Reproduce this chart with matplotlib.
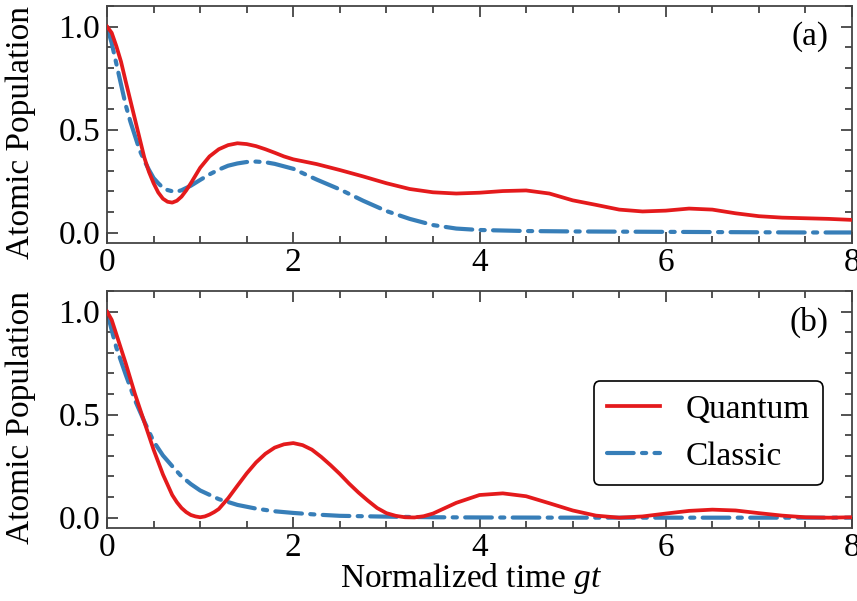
import numpy as np
import matplotlib
matplotlib.use("Agg")
import matplotlib.pyplot as plt
from matplotlib.ticker import MultipleLocator

# ---------------------------------------------------------
# DATA
# ---------------------------------------------------------
# panel (a)
t_a_quantum = [0, 0.05, 0.1, 0.15, 0.2, 0.3, 0.4, 0.45, 0.5, 0.55, 0.6, 0.65, 0.7, 0.75,
               0.8, 0.85, 0.9, 1.0, 1.1, 1.2, 1.3, 1.4, 1.5, 1.6, 1.7, 1.8, 1.9, 2.0,
               2.25, 2.5, 2.75, 3.0, 3.25, 3.5, 3.75, 4.0, 4.25, 4.5, 4.75, 5.0, 5.25,
               5.5, 5.75, 6.0, 6.25, 6.5, 6.75, 7.0, 7.25, 7.5, 7.75, 8.0]
a_quantum = [1.0, 0.97, 0.905, 0.83, 0.735, 0.55, 0.365, 0.295, 0.24, 0.195, 0.165, 0.15,
             0.146, 0.155, 0.175, 0.205, 0.24, 0.315, 0.37, 0.405, 0.425, 0.434, 0.43,
             0.42, 0.405, 0.388, 0.37, 0.356, 0.333, 0.304, 0.273, 0.24, 0.212, 0.196,
             0.19, 0.194, 0.202, 0.205, 0.19, 0.157, 0.135, 0.112, 0.103, 0.107, 0.117,
             0.112, 0.094, 0.08, 0.073, 0.07, 0.067, 0.062]

t_a_classic = [0, 0.05, 0.1, 0.15, 0.2, 0.25, 0.3, 0.35, 0.4, 0.45, 0.5, 0.55, 0.6, 0.65,
               0.7, 0.75, 0.8, 0.9, 1.0, 1.1, 1.2, 1.3, 1.4, 1.5, 1.6, 1.7, 1.8, 1.9, 2.0,
               2.25, 2.5, 2.75, 3.0, 3.25, 3.5, 3.75, 4.0, 4.5, 5.0, 5.5, 6.0, 6.5, 7.0,
               7.5, 8.0]
a_classic = [1.0, 0.92, 0.82, 0.72, 0.62, 0.54, 0.47, 0.40, 0.35, 0.305, 0.265, 0.24,
             0.218, 0.207, 0.201, 0.199, 0.206, 0.228, 0.256, 0.283, 0.306, 0.325, 0.336,
             0.343, 0.345, 0.342, 0.334, 0.322, 0.31, 0.258, 0.21, 0.155, 0.105, 0.067,
             0.037, 0.02, 0.013, 0.008, 0.006, 0.005, 0.004, 0.003, 0.002, 0.001, 0.001]

# panel (b)
t_b_quantum = [0, 0.05, 0.1, 0.15, 0.2, 0.3, 0.4, 0.5, 0.6, 0.7, 0.75, 0.8, 0.85, 0.9,
               0.95, 1.0, 1.05, 1.1, 1.15, 1.2, 1.3, 1.4, 1.5, 1.6, 1.7, 1.8, 1.9, 2.0,
               2.1, 2.2, 2.3, 2.4, 2.5, 2.6, 2.7, 2.8, 2.9, 3.0, 3.1, 3.2, 3.3, 3.4, 3.5,
               3.75, 4.0, 4.25, 4.5, 4.75, 5.0, 5.25, 5.5, 5.75, 6.0, 6.25, 6.5, 6.75,
               7.0, 7.25, 7.5, 7.75, 8.0]
b_quantum = [1.0, 0.96, 0.89, 0.82, 0.75, 0.60, 0.465, 0.33, 0.21, 0.11, 0.075, 0.047,
             0.027, 0.013, 0.006, 0.002, 0.006, 0.015, 0.027, 0.042, 0.094, 0.155, 0.215,
             0.268, 0.31, 0.34, 0.356, 0.362, 0.352, 0.33, 0.295, 0.255, 0.212, 0.165,
             0.122, 0.083, 0.047, 0.022, 0.009, 0.002, 0.001, 0.007, 0.02, 0.072, 0.11,
             0.118, 0.104, 0.07, 0.035, 0.01, 0.0, 0.006, 0.02, 0.033, 0.039, 0.035,
             0.022, 0.01, 0.002, 0.0, 0.002]

t_b_classic = [0, 0.05, 0.1, 0.15, 0.2, 0.3, 0.4, 0.5, 0.6, 0.7, 0.8, 0.9, 1.0, 1.2,
               1.4, 1.6, 1.8, 2.0, 2.25, 2.5, 3.0, 3.5, 4.0, 5.0, 6.0, 7.0, 8.0]
b_classic = [1.0, 0.91, 0.825, 0.76, 0.695, 0.57, 0.467, 0.37, 0.302, 0.25, 0.2, 0.163,
             0.132, 0.09, 0.062, 0.044, 0.031, 0.023, 0.015, 0.009, 0.005, 0.002, 0.001,
             0.0, 0.0, 0.0, 0.0]

labels = ["Quantum", "Classic"]
panel_tags = ["(a)", "(b)"]

# ---------------------------------------------------------
# STYLE
# ---------------------------------------------------------
plt.rcParams["font.family"] = ["Liberation Serif", "DejaVu Serif"]
plt.rcParams["mathtext.fontset"] = "custom"
plt.rcParams["mathtext.rm"] = "Liberation Serif"
plt.rcParams["mathtext.it"] = "Liberation Serif:italic"
plt.rcParams["font.size"] = 24

red, blue = "#e41a1c", "#377eb8"
axis_col = "#444444"

fig = plt.figure(figsize=(8.57, 6.01), dpi=100)
ax_a = fig.add_axes([0.1249, 0.5957, 0.8693, 0.3943])
ax_b = fig.add_axes([0.1249, 0.1215, 0.8693, 0.3943])

series = [
    (ax_a, t_a_quantum, a_quantum, t_a_classic, a_classic),
    (ax_b, t_b_quantum, b_quantum, t_b_classic, b_classic),
]

for (ax, tq, q, tc, c), tag in zip(series, panel_tags):
    ax.plot(tq, q, color=red, lw=2.7, label=labels[0], zorder=3,
            solid_joinstyle="round")
    ax.plot(tc, c, color=blue, lw=3.0, linestyle=(0, (6.4, 2.0, 1.0, 2.0)),
            dash_capstyle="round", label=labels[1], zorder=2)
    ax.set_xlim(0, 8)
    ax.set_ylim(-0.05, 1.1)
    ax.xaxis.set_major_locator(MultipleLocator(2))
    ax.xaxis.set_minor_locator(MultipleLocator(0.5))
    ax.yaxis.set_major_locator(MultipleLocator(0.5))
    ax.yaxis.set_minor_locator(MultipleLocator(0.1))
    ax.tick_params(which="both", direction="in", top=True, right=True,
                   color=axis_col, width=1.3)
    ax.tick_params(which="major", length=8, labelsize=24)
    ax.tick_params(which="minor", length=5)
    ax.tick_params(axis="y", pad=5)
    for s in ax.spines.values():
        s.set_color(axis_col)
        s.set_linewidth(1.3)
    ax.set_ylabel("Atomic Population")
    ax.yaxis.set_label_coords(-0.096, 0.466)
    ax.text(0.968, 0.935, tag, transform=ax.transAxes, ha="right", va="top")

ax_b.set_xlabel("Normalized time $gt$")
ax_b.xaxis.set_label_coords(0.489, -0.139)

leg = ax_b.legend(loc="upper right", bbox_to_anchor=(0.961, 0.620), borderaxespad=0,
                  handlelength=1.6, handletextpad=0.75, labelspacing=0.5,
                  borderpad=0.4, fancybox=True, framealpha=1, edgecolor="black")
leg.get_frame().set_linewidth(1.2)

fig.savefig("out.png", dpi=100)
